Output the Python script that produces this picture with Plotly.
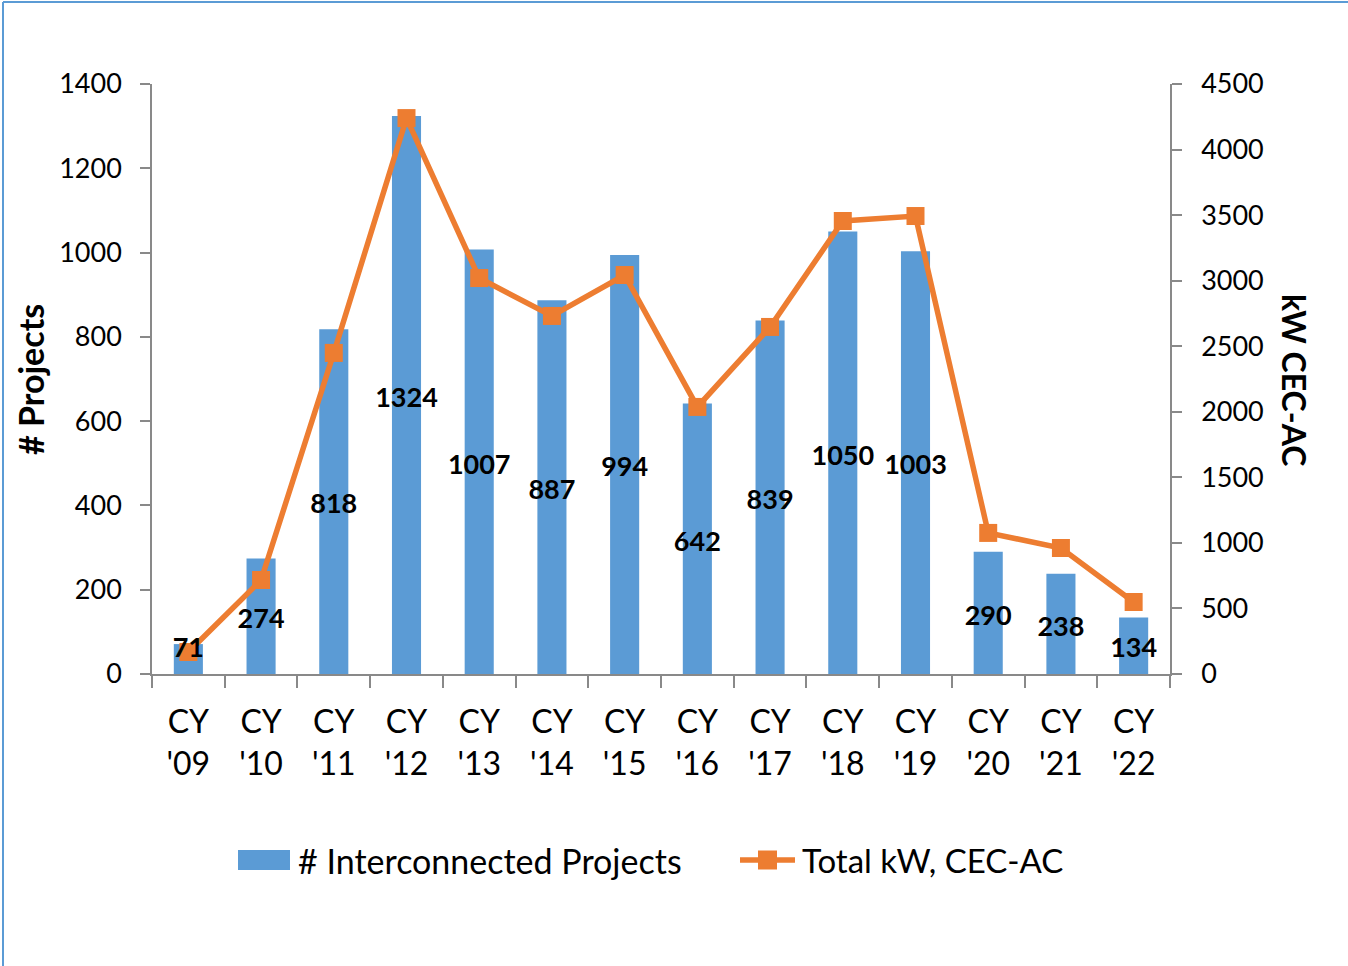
import plotly.graph_objects as go

categories = ["CY<br>'09", "CY<br>'10", "CY<br>'11", "CY<br>'12", "CY<br>'13", "CY<br>'14", "CY<br>'15",
              "CY<br>'16", "CY<br>'17", "CY<br>'18", "CY<br>'19", "CY<br>'20", "CY<br>'21", "CY<br>'22"]
projects = [71, 274, 818, 1324, 1007, 887, 994, 642, 839, 1050, 1003, 290, 238, 134]
total_kw = [168, 717, 2449, 4240, 3020, 2731, 3043, 2037, 2647, 3455, 3493, 1076, 961, 549]
series_names = ["# Interconnected Projects", "Total kW, CEC-AC"]

BLUE = "#5B9BD5"
ORANGE = "#ED7D31"
AXIS = "#898989"
FONT = "Lato"

Y1_MAX = 1400
Y2_MAX = 4500

W, H = 1348, 966
L, R, T, B = 152, 178, 84, 292
pw, ph = W - L - R, H - T - B


def px_x(p):
    return (p - L) / pw


def px_y(p):
    return (H - B - p) / ph


fig = go.Figure()
fig.add_trace(go.Bar(
    x=categories, y=projects, name=series_names[0],
    marker=dict(color=BLUE, line=dict(width=0)), yaxis="y", showlegend=False,
))
fig.add_trace(go.Scatter(
    x=categories, y=total_kw, name=series_names[1], yaxis="y2",
    mode="lines+markers", line=dict(color=ORANGE, width=5.5),
    marker=dict(symbol="square", size=18, color=ORANGE), showlegend=False,
))
# data labels centred in bars (placed on the overlay axis so they draw above the line)
fig.add_trace(go.Scatter(
    x=categories, y=[(max(v / 2, 69) - 12) * Y2_MAX / Y1_MAX for v in projects],
    text=[str(v) for v in projects],
    mode="text", textfont=dict(family=FONT, size=27, color="black", weight="bold"),
    showlegend=False, hoverinfo="skip", yaxis="y2",
))

LEG_Y = 860
legend_shapes = [
    dict(type="rect", xref="paper", yref="paper", x0=px_x(238), x1=px_x(290),
         y0=px_y(LEG_Y + 10), y1=px_y(LEG_Y - 10), fillcolor=BLUE, line=dict(width=0)),
    dict(type="line", xref="paper", yref="paper", x0=px_x(740), x1=px_x(795),
         y0=px_y(LEG_Y), y1=px_y(LEG_Y), line=dict(color=ORANGE, width=5.5)),
    dict(type="rect", xref="paper", yref="paper", x0=px_x(758), x1=px_x(777),
         y0=px_y(LEG_Y + 9.5), y1=px_y(LEG_Y - 9.5), fillcolor=ORANGE, line=dict(width=0)),
]
legend_texts = [
    dict(text=series_names[0], xref="paper", yref="paper", x=px_x(296), y=px_y(LEG_Y),
         xanchor="left", yanchor="middle", showarrow=False,
         font=dict(family=FONT, size=34, color="black")),
    dict(text=series_names[1], xref="paper", yref="paper", x=px_x(800), y=px_y(LEG_Y),
         xanchor="left", yanchor="middle", showarrow=False,
         font=dict(family=FONT, size=33, color="black")),
]

fig.update_layout(
    width=W, height=H, autosize=False,
    margin=dict(l=L, r=R, t=T, b=B),
    paper_bgcolor="white", plot_bgcolor="white",
    font=dict(family=FONT, color="black"),
    bargap=0.6,
    showlegend=False,
    xaxis=dict(
        range=[-0.5, len(categories) - 0.5],
        showgrid=False, showline=True, linecolor=AXIS, linewidth=1.5,
        ticks="outside", tickson="boundaries", ticklen=12, tickcolor=AXIS, tickwidth=1.5,
        tickfont=dict(family=FONT, size=32, color="black"),
        ticklabelstandoff=19,
    ),
    yaxis=dict(
        range=[0, Y1_MAX], dtick=200, showgrid=False, showline=True, linecolor=AXIS, linewidth=1.5,
        ticks="outside", ticklen=10, tickcolor=AXIS, tickwidth=1.5,
        tickfont=dict(family=FONT, size=27, color="black"), ticklabelstandoff=13,
        zeroline=False,
    ),
    yaxis2=dict(
        range=[0, Y2_MAX], dtick=500, overlaying="y", side="right", showgrid=False,
        showline=True, linecolor=AXIS, linewidth=1.5,
        ticks="outside", ticklen=10, tickcolor=AXIS, tickwidth=1.5,
        tickfont=dict(family=FONT, size=27, color="black"), ticklabelstandoff=14,
        zeroline=False,
    ),
    annotations=[
        dict(text="# Projects", xref="paper", yref="paper", x=px_x(30), y=px_y(380),
             textangle=-90, showarrow=False, xanchor="center", yanchor="middle",
             font=dict(family=FONT, size=34, color="black", weight="bold")),
        dict(text="kW CEC-AC", xref="paper", yref="paper", x=px_x(1295), y=px_y(380),
             textangle=90, showarrow=False, xanchor="center", yanchor="middle",
             font=dict(family=FONT, size=32, color="black", weight="bold")),
    ] + legend_texts,
    shapes=[
        dict(type="line", xref="paper", yref="paper", x0=px_x(3), x1=px_x(1350), y0=px_y(2), y1=px_y(2),
             line=dict(color=BLUE, width=2)),
        dict(type="line", xref="paper", yref="paper", x0=px_x(3), x1=px_x(3), y0=px_y(2), y1=px_y(970),
             line=dict(color=BLUE, width=2)),
    ] + legend_shapes,
)

fig.write_html("out.html", config={"displayModeBar": False},
               post_script="document.body.style.margin='0';document.body.style.overflow='hidden';")
